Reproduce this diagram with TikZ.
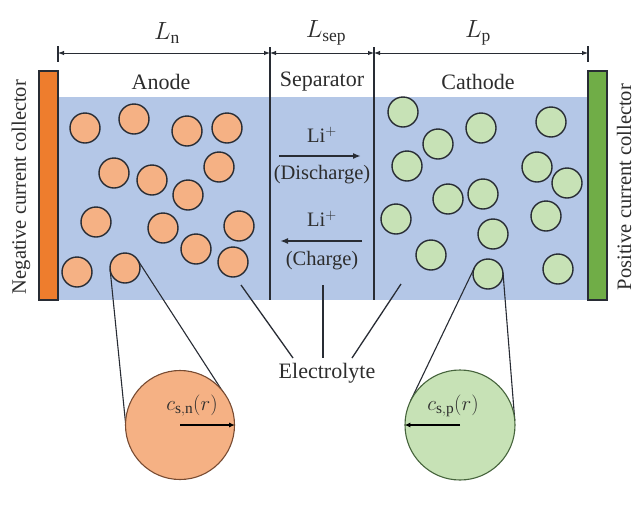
\documentclass[tikz,border=0pt]{standalone}
\usepackage{fontspec}
\setmainfont{Liberation Serif}
\usetikzlibrary{arrows.meta}
\definecolor{elec}{RGB}{180,199,231}
\definecolor{anp}{RGB}{245,177,132}
\definecolor{cap}{RGB}{199,226,182}
\definecolor{ncol}{RGB}{238,125,45}
\definecolor{pcol}{RGB}{112,173,71}
\definecolor{ink}{RGB}{40,44,52}
\definecolor{txt}{RGB}{45,45,45}
\tikzset{
  apart/.style={circle, draw=ink, line width=1.4pt, fill=anp, minimum size=30pt, inner sep=0pt},
  cpart/.style={circle, draw=ink, line width=1.4pt, fill=cap, minimum size=30pt, inner sep=0pt},
  lbl/.style={text=txt, font=\fontsize{22}{26}\selectfont, inner sep=0pt},
  mlbl/.style={text=txt, font=\fontsize{25}{28}\selectfont, inner sep=0pt},
  slbl/.style={text=txt, font=\fontsize{20.5}{24}\selectfont, inner sep=0pt},
  dimline/.style={draw=ink, line width=1pt, {Latex[length=6pt,width=4.5pt]}-{Latex[length=6pt,width=4.5pt]}},
  sepline/.style={draw=ink, line width=1.4pt},
  pointer/.style={draw=ink, line width=1.3pt},
  flow/.style={draw=ink, line width=1.7pt, -{Latex[length=8pt,width=6pt]}},
  radarrow/.style={draw=black, line width=1.5pt, -{Latex[length=6pt,width=5pt]}},
  tangentline/.style={draw=ink, line width=1.1pt},
  collector/.style={draw=ink, line width=1.3pt, inner sep=0pt, minimum width=19pt, minimum height=229pt}
}
\begin{document}
\begin{tikzpicture}[x=1pt,y=-1pt]
\useasboundingbox (0,0) rectangle (640,504);
\fill[white] (0,0) rectangle (640,504);

% electrolyte region
\fill[elec] (58,97) rectangle (588,300);

% collectors
\node[collector, fill=ncol] (ncc) at (48.5,185.5) {};
\node[collector, fill=pcol] (pcc) at (597.5,185.5) {};
\node[slbl, rotate=90] (nlab) at (21,187) {Negative current collector};
\node[slbl, rotate=90] (plab) at (624,187) {Positive current collector};

% separator lines
\draw[sepline] (270,47) -- (270,300);
\draw[sepline] (374,47) -- (374,300);

% dimension lines
\coordinate (d0) at (58,53);
\coordinate (d1) at (270,53);
\coordinate (d2) at (374,53);
\coordinate (d3) at (588,53);
\draw[sepline] (58,46) -- (58,62);
\draw[sepline] (588,46) -- (588,62);
\draw[dimline] (d0) -- (d1);
\draw[dimline] (d1) -- (d2);
\draw[dimline] (d2) -- (d3);
\node[mlbl] (ln) at (167,33) {$L_{\mathrm{n}}$};
\node[mlbl] (lsep) at (326,33) {$L_{\mathrm{sep}}$};
\node[mlbl] (lp) at (478,33) {$L_{\mathrm{p}}$};

% region titles
\node[lbl] (anode) at (161,82) {Anode};
\node[lbl] (sep) at (322,82) {Separator};
\node[lbl] (cathode) at (478,82) {Cathode};

% anode particles
\node[apart] (a1) at (85,128) {};
\node[apart] (a2) at (134,119) {};
\node[apart] (a3) at (187,131) {};
\node[apart] (a4) at (227,128) {};
\node[apart] (a5) at (114,173) {};
\node[apart] (a6) at (152,180) {};
\node[apart] (a7) at (219,167) {};
\node[apart] (a8) at (188,195) {};
\node[apart] (a9) at (96,222) {};
\node[apart] (a10) at (163,228) {};
\node[apart] (a11) at (239,226) {};
\node[apart] (a12) at (196,249) {};
\node[apart] (a13) at (77,272) {};
\node[apart] (a14) at (125,268) {};
\node[apart] (a15) at (233,262) {};

% cathode particles
\node[cpart] (c1) at (403,112) {};
\node[cpart] (c2) at (481,128) {};
\node[cpart] (c3) at (551,122) {};
\node[cpart] (c4) at (438,144) {};
\node[cpart] (c5) at (407,166) {};
\node[cpart] (c6) at (537,167) {};
\node[cpart] (c7) at (567,183) {};
\node[cpart] (c8) at (448,199) {};
\node[cpart] (c9) at (483,194) {};
\node[cpart] (c10) at (396,219) {};
\node[cpart] (c11) at (546,216) {};
\node[cpart] (c12) at (493,234) {};
\node[cpart] (c13) at (431,255) {};
\node[cpart] (c14) at (558,269) {};
\node[cpart] (c15) at (488,274) {};

% Li+ flow
\node[slbl] (li1) at (322,135) {Li$^{+}$};
\coordinate (f1a) at (279,156);
\coordinate (f1b) at (361,156);
\draw[flow] (f1a) -- (f1b);
\node[slbl] (dis) at (322,175) {(Discharge)};
\node[slbl] (li2) at (322,219) {Li$^{+}$};
\coordinate (f2a) at (362,241);
\coordinate (f2b) at (280,241);
\draw[flow] (f2a) -- (f2b);
\node[slbl] (chg) at (322,261) {(Charge)};

% electrolyte label and pointers
\node[lbl] (el) at (327,373) {Electrolyte};
\coordinate (s1) at (241,285);
\coordinate (s2) at (323,285);
\coordinate (s3) at (401,284);
\coordinate (e1) at (293,358);
\coordinate (e2) at (323,358);
\coordinate (e3) at (352,358);
\draw[pointer] (s1) -- (e1);
\draw[pointer] (s2) -- (e2);
\draw[pointer] (s3) -- (e3);

% zoom tangent lines
\coordinate (tn1) at (110.1,269.5);
\coordinate (tn2) at (126.3,430.4);
\coordinate (tn3) at (137.6,259.9);
\coordinate (tn4) at (225.4,395.7);
\coordinate (tp1) at (474.5,267.5);
\coordinate (tp2) at (410.4,401.2);
\coordinate (tp3) at (503.0,272.8);
\coordinate (tp4) at (514.8,420.6);
\draw[tangentline] (tn1) -- (tn2);
\draw[tangentline] (tn3) -- (tn4);
\draw[tangentline] (tp1) -- (tp2);
\draw[tangentline] (tp3) -- (tp4);

% big particles
\node[circle, draw={rgb,255:red,120;green,75;blue,50}, line width=1.1pt, fill=anp, minimum size=109pt, inner sep=0pt] (bn) at (180,425) {};
\node[circle, draw={rgb,255:red,70;green,100;blue,60}, line width=1.1pt, fill=cap, minimum size=110pt, inner sep=0pt] (bp) at (460,425) {};
\draw[radarrow] (bn.center) -- (bn.east);
\draw[radarrow] (bp.center) -- (bp.west);
\node[lbl] (csn) at (192,406) {$c_{\mathrm{s,n}}(r)$};
\node[lbl] (csp) at (453,406) {$c_{\mathrm{s,p}}(r)$};
\end{tikzpicture}
\end{document}
